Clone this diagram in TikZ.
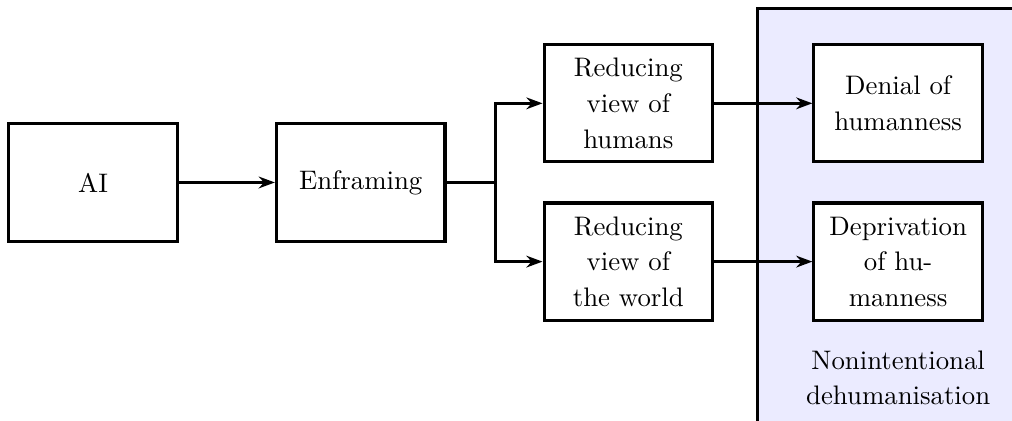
\documentclass[tikz,border=0pt]{standalone}
\usetikzlibrary{positioning,arrows.meta}

\begin{document}
\begin{tikzpicture}[node distance=1.31cm,
  every node/.style={font=\fontsize{10.4}{13.8}\selectfont},
  box/.style={draw, line width=1.2pt, fill=white, align=center,
    minimum width=2.3cm, minimum height=1.6cm},
  link/.style={line width=1.2pt},
  arr/.style={link, -{Stealth[length=2.2mm, width=1.6mm]}},
  group/.style={draw, line width=1.2pt, fill=blue!8}]
  \clip (0,0) rectangle (13.81,5.74);
  \draw[group] (10.34,-1) rectangle (15,5.63);
  \node[box] (ai) at (1.27,3.25) {AI};
  \node[box, right=of ai] (enf) {Enframing};
  \node[box, right=of enf, yshift=1.08cm] (rh) {Reducing\\view of\\humans};
  \node[box, right=of enf, yshift=-1.08cm] (rw) {Reducing\\view of\\the world};
  \node[box, right=1.34cm of rh] (den) {Denial of\\humanness};
  \node[box, right=1.34cm of rw] (dep) {Deprivation\\of hu-\\manness};
  \node[align=center, below=0.27cm of dep] (lbl) {Nonintentional\\dehumanisation};
  \coordinate[right=0.67cm of enf.east] (split);
  \draw[arr] (ai) -- (enf);
  \draw[link] (enf) -- (split);
  \draw[arr] (split) |- (rh);
  \draw[arr] (split) |- (rw);
  \draw[arr] (rh) -- (den);
  \draw[arr] (rw) -- (dep);
\end{tikzpicture}
\end{document}
